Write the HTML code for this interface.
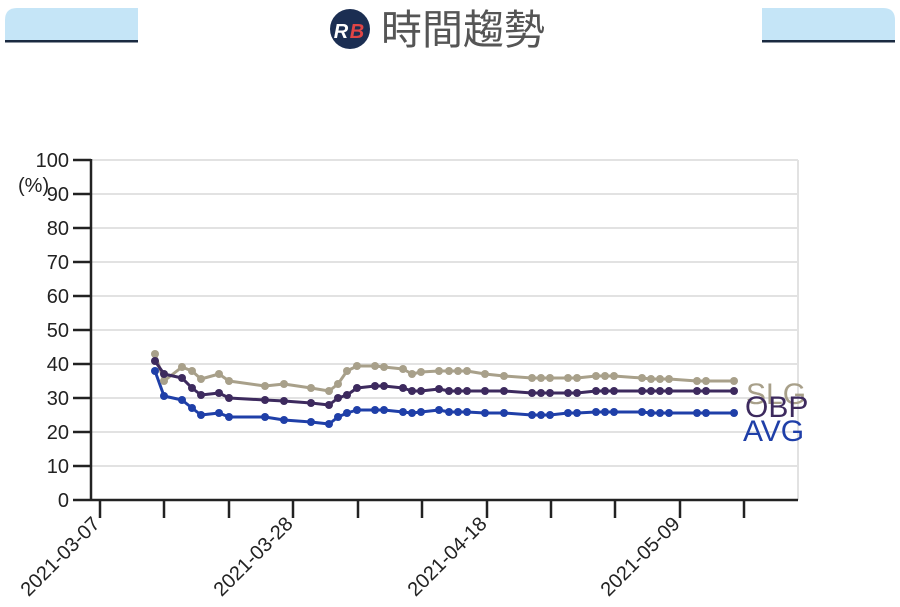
<!DOCTYPE html>
<html><head><meta charset="utf-8"><style>
body{margin:0;background:#fff;width:900px;height:602px;overflow:hidden;font-family:"Liberation Sans","Noto Sans CJK TC",sans-serif}
</style></head><body>
<svg width="900" height="602" xmlns="http://www.w3.org/2000/svg" font-family="Liberation Sans, Noto Sans CJK TC, sans-serif">
<path d="M5 42 V20 Q5 8 17 8 H138 V42 Z" fill="#c5e5f7"/>
<rect x="5" y="40" width="133" height="2.5" fill="#1a2a40"/>
<path d="M762 42 V8 H883 Q895 8 895 20 V42 Z" fill="#c5e5f7"/>
<rect x="762" y="40" width="133" height="2.5" fill="#1a2a40"/>
<circle cx="350" cy="29" r="20" fill="#1b2e52"/>
<text x="341" y="38" font-size="20" font-weight="bold" font-style="italic" fill="#fff" text-anchor="middle">R</text>
<text x="357" y="38" font-size="20" font-weight="bold" font-style="italic" fill="#e04545" text-anchor="middle">B</text>
<text x="381" y="44" font-size="41" fill="#555" font-family="Noto Sans CJK TC, sans-serif">時間趨勢</text>
<g stroke="#e2e2e2" stroke-width="2">
<line x1="91" x2="798" y1="160" y2="160"/><line x1="91" x2="798" y1="194" y2="194"/><line x1="91" x2="798" y1="228" y2="228"/><line x1="91" x2="798" y1="262" y2="262"/><line x1="91" x2="798" y1="296" y2="296"/><line x1="91" x2="798" y1="330" y2="330"/><line x1="91" x2="798" y1="364" y2="364"/><line x1="91" x2="798" y1="398" y2="398"/><line x1="91" x2="798" y1="432" y2="432"/><line x1="91" x2="798" y1="466" y2="466"/>
<line x1="798" x2="798" y1="160" y2="500"/>
</g>
<g stroke="#222" stroke-width="2.5">
<line x1="91" y1="159" x2="91" y2="501"/><line x1="73" y1="500" x2="798" y2="500"/>
<line x1="73" x2="91" y1="160" y2="160"/><line x1="73" x2="91" y1="194" y2="194"/><line x1="73" x2="91" y1="228" y2="228"/><line x1="73" x2="91" y1="262" y2="262"/><line x1="73" x2="91" y1="296" y2="296"/><line x1="73" x2="91" y1="330" y2="330"/><line x1="73" x2="91" y1="364" y2="364"/><line x1="73" x2="91" y1="398" y2="398"/><line x1="73" x2="91" y1="432" y2="432"/><line x1="73" x2="91" y1="466" y2="466"/>
<line x1="100" x2="100" y1="500" y2="518"/><line x1="164" x2="164" y1="500" y2="518"/><line x1="229" x2="229" y1="500" y2="518"/><line x1="293" x2="293" y1="500" y2="518"/><line x1="358" x2="358" y1="500" y2="518"/><line x1="422" x2="422" y1="500" y2="518"/><line x1="487" x2="487" y1="500" y2="518"/><line x1="551" x2="551" y1="500" y2="518"/><line x1="615" x2="615" y1="500" y2="518"/><line x1="680" x2="680" y1="500" y2="518"/><line x1="744" x2="744" y1="500" y2="518"/>
</g>
<g font-size="20" fill="#222" text-anchor="end">
<text x="69" y="167">100</text><text x="69" y="201">90</text><text x="69" y="235">80</text><text x="69" y="269">70</text><text x="69" y="303">60</text><text x="69" y="337">50</text><text x="69" y="371">40</text><text x="69" y="405">30</text><text x="69" y="439">20</text><text x="69" y="473">10</text><text x="69" y="507">0</text>
<text transform="translate(101,525) rotate(-45)">2021-03-07</text>
<text transform="translate(294,525) rotate(-45)">2021-03-28</text>
<text transform="translate(488,525) rotate(-45)">2021-04-18</text>
<text transform="translate(681,525) rotate(-45)">2021-05-09</text>
</g>
<text x="18" y="192" font-size="20" fill="#222">(%)</text>
<g fill="none" stroke-width="3" stroke-linejoin="round">
<polyline stroke="#a8a08a" points="155,354 164,381 182,367 192,371 201,379 219,374 229,381 265,386 284,384 311,388 329,391 338,384 347,371 357,366 375,366 384,367 403,369 412,374 421,372 439,371 449,371 458,371 467,371 485,374 504,376 532,378 541,378 550,378 568,378 577,378 596,376 605,376 614,376 642,378 651,379 660,379 669,379 697,381 706,381 734,381"/>
<polyline stroke="#3d2a5e" points="155,361 164,374 182,378 192,388 201,395 219,393 229,398 265,400 284,401 311,403 329,405 338,398 347,395 357,388 375,386 384,386 403,388 412,391 421,391 439,389 449,391 458,391 467,391 485,391 504,391 532,393 541,393 550,393 568,393 577,393 596,391 605,391 614,391 642,391 651,391 660,391 669,391 697,391 706,391 734,391"/>
<polyline stroke="#1f3fa8" points="155,371 164,396 182,400 192,408 201,415 219,413 229,417 265,417 284,420 311,422 329,424 338,417 347,413 357,410 375,410 384,410 403,412 412,413 421,412 439,410 449,412 458,412 467,412 485,413 504,413 532,415 541,415 550,415 568,413 577,413 596,412 605,412 614,412 642,412 651,413 660,413 669,413 697,413 706,413 734,413"/>
</g>
<g id="dots"></g>
<text x="746" y="404" font-size="30" fill="#a8a08a">SLG</text>
<text x="745" y="417" font-size="30" fill="#3d2a5e">OBP</text>
<text x="743" y="441" font-size="30" fill="#1f3fa8">AVG</text>
<script>
var g=document.getElementById('dots');
document.querySelectorAll('polyline').forEach(function(p){
var c=p.getAttribute('stroke');
p.getAttribute('points').trim().split(/\s+/).forEach(function(pt){
var a=pt.split(',');var e=document.createElementNS('http://www.w3.org/2000/svg','circle');
e.setAttribute('cx',a[0]);e.setAttribute('cy',a[1]);e.setAttribute('r','4');e.setAttribute('fill',c);g.appendChild(e);});});
</script>
</svg>
</body></html>
